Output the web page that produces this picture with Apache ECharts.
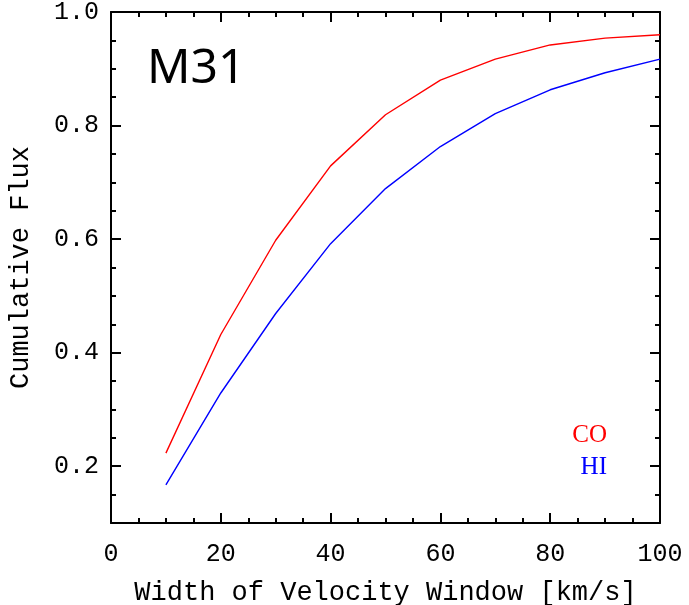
<!DOCTYPE html>
<html>
<head>
<meta charset="utf-8">
<script src="https://cdn.jsdelivr.net/npm/echarts@6/dist/echarts.min.js"></script>
<style>html,body{margin:0;padding:0;background:#fff}#c{width:689px;height:605px}</style>
</head>
<body>
<div id="c"></div>
<script>
var velocityWidth = [10, 20, 30, 40, 50, 60, 70, 80, 90, 100];
var coFlux = [0.223, 0.432, 0.598, 0.729, 0.819, 0.880, 0.917, 0.942, 0.954, 0.960];
var hiFlux = [0.167, 0.329, 0.469, 0.592, 0.689, 0.763, 0.821, 0.863, 0.893, 0.917];
var xMajorTicks = [0, 20, 40, 60, 80, 100];
var xMinorTicks = [5, 10, 15, 25, 30, 35, 45, 50, 55, 65, 70, 75, 85, 90, 95];
var yMajorTicks = [0.2, 0.4, 0.6, 0.8, 1.0];
var yMinorTicks = [0.15, 0.25, 0.3, 0.35, 0.45, 0.5, 0.55, 0.65, 0.7, 0.75, 0.85, 0.9, 0.95];
var xTitle = 'Width of Velocity Window [km/s]';
var yTitle = 'Cumulative Flux';
var label = 'M31';

var chart = echarts.init(document.getElementById('c'));
var monoFont = '"Liberation Mono", monospace';
var lineCol = {color: '#000', width: 2};

function xAx(pos, vals, len, line, labels) {
  return {type: 'value', min: 0, max: 100, position: pos,
    axisLine: {show: line, onZero: false, lineStyle: lineCol},
    splitLine: {show: false},
    axisTick: {show: true, inside: true, length: len, lineStyle: lineCol, customValues: vals},
    axisLabel: labels ? {fontFamily: monoFont, fontSize: 25, color: '#000', margin: 19, customValues: xMajorTicks} : {show: false}
  };
}
function yAx(pos, vals, len, line, labels) {
  return {type: 'value', min: 0.1, max: 1.0, position: pos,
    axisLine: {show: line, onZero: false, lineStyle: lineCol},
    splitLine: {show: false},
    axisTick: {show: true, inside: true, length: len, lineStyle: lineCol, customValues: vals},
    axisLabel: labels ? {fontFamily: monoFont, fontSize: 25, color: '#000', margin: 12,
      customValues: yMajorTicks, formatter: function (v) { return v.toFixed(1); }} : {show: false}
  };
}
function zip(xs, ys) { return xs.map(function (x, i) { return [x, ys[i]]; }); }

var xBottom = xAx('bottom', xMajorTicks, 10, true, true);
xBottom.name = xTitle; xBottom.nameLocation = 'middle'; xBottom.nameGap = 56;
xBottom.nameTextStyle = {fontFamily: monoFont, fontSize: 27, color: '#000'};
var yLeft = yAx('left', yMajorTicks, 10, true, true);
yLeft.name = yTitle; yLeft.nameLocation = 'middle'; yLeft.nameGap = 77;
yLeft.nameTextStyle = {fontFamily: monoFont, fontSize: 27, color: '#000'};

chart.setOption({
  animation: false,
  backgroundColor: '#fff',
  grid: {left: 111, right: 29, top: 12, bottom: 82, containLabel: false, outerBoundsMode: 'none'},
  xAxis: [
    xBottom,
    xAx('bottom', xMinorTicks, 5, false, false),
    xAx('top', xMajorTicks, 10, true, false),
    xAx('top', xMinorTicks, 5, false, false)
  ],
  yAxis: [
    yLeft,
    yAx('left', yMinorTicks, 5, false, false),
    yAx('right', yMajorTicks, 10, true, false),
    yAx('right', yMinorTicks, 5, false, false)
  ],
  series: [
    {type: 'line', name: 'CO', data: zip(velocityWidth, coFlux), showSymbol: false,
      lineStyle: {color: '#ff0000', width: 1.4}, itemStyle: {color: '#ff0000'}},
    {type: 'line', name: 'HI', data: zip(velocityWidth, hiFlux), showSymbol: false,
      lineStyle: {color: '#0000ff', width: 1.4}, itemStyle: {color: '#0000ff'}}
  ],
  graphic: [
    {type: 'text', left: 147, top: 45, style: {text: label, fontFamily: '"Noto Sans", sans-serif', fontSize: 48, fill: '#000'}},
    {type: 'text', right: 82, top: 423, style: {text: 'CO', fontFamily: '"Liberation Serif", serif', fontSize: 25, fill: '#ff0000', textAlign: 'right'}},
    {type: 'text', right: 82, top: 455, style: {text: 'HI', fontFamily: '"Liberation Serif", serif', fontSize: 25, fill: '#0000ff', textAlign: 'right'}}
  ]
});
</script>
</body>
</html>
